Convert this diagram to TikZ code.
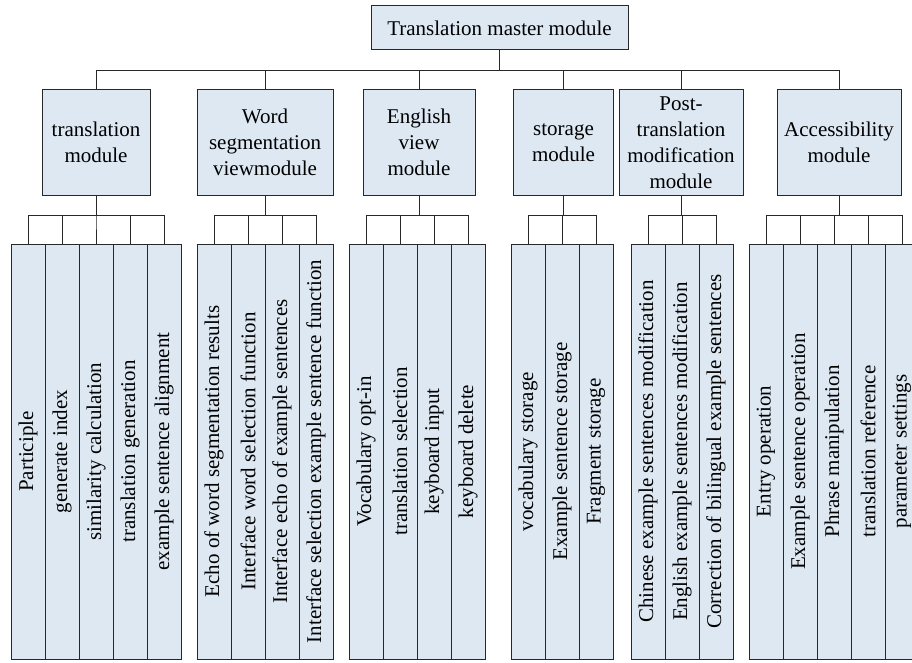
\documentclass[tikz,border=0pt]{standalone}
\usepackage{fontspec}
\setmainfont{Liberation Serif}
\definecolor{boxfill}{RGB}{221,232,243}
\definecolor{linegray}{RGB}{40,40,40}

\begin{document}
\begin{tikzpicture}[x=1pt,y=1pt]
\tikzstyle{every node}+=[inner sep=0pt, font=\fontsize{21}{26}\selectfont]
\tikzstyle{box}=[draw=linegray, line width=1pt, fill=boxfill, align=center]
\tikzstyle{module}=[box, minimum height=105pt]
\tikzstyle{leaf}=[box, minimum width=34pt, minimum height=415pt]
\tikzstyle{link}=[draw=linegray, line width=1pt]
\useasboundingbox (0,0) rectangle (912,-663);
% top
\node [box, minimum width=257pt, minimum height=44pt] (master) at (499.5,-28) {Translation master module};
% modules
\node [module, minimum width=108pt] (trans) at (96,-142.5) {translation\\module};
\node [module, minimum width=136pt] (wordseg) at (265,-142.5) {Word\\segmentation\\viewmodule};
\node [module, minimum width=112pt] (english) at (419,-142.5) {English\\view\\module};
\node [module, minimum width=100pt] (storage) at (563.5,-142.5) {storage\\module};
\node [module, minimum width=124pt] (post) at (681,-142.5) {Post-\\translation\\modification\\module};
\node [module, minimum width=124pt] (access) at (839,-142.5) {Accessibility\\module};
% translation module
\node [leaf] (trans1) at (28,-451.5) {\rotatebox{90}{Participle}};
\node [leaf] (trans2) at (62,-451.5) {\rotatebox{90}{generate index}};
\node [leaf] (trans3) at (96,-451.5) {\rotatebox{90}{similarity calculation}};
\node [leaf] (trans4) at (130,-451.5) {\rotatebox{90}{translation generation}};
\node [leaf] (trans5) at (164,-451.5) {\rotatebox{90}{example sentence alignment}};
% word segmentation
\node [leaf] (wordseg1) at (214,-451.5) {\rotatebox{90}{Echo of word segmentation results}};
\node [leaf] (wordseg2) at (248,-451.5) {\rotatebox{90}{Interface word selection function}};
\node [leaf] (wordseg3) at (282,-451.5) {\rotatebox{90}{Interface echo of example sentences}};
\node [leaf] (wordseg4) at (316,-451.5) {\rotatebox{90}{Interface selection example sentence function}};
% english view
\node [leaf] (english1) at (366,-451.5) {\rotatebox{90}{Vocabulary opt-in}};
\node [leaf] (english2) at (400,-451.5) {\rotatebox{90}{translation selection}};
\node [leaf] (english3) at (434,-451.5) {\rotatebox{90}{keyboard input}};
\node [leaf] (english4) at (468,-451.5) {\rotatebox{90}{keyboard delete}};
% storage
\node [leaf] (storage1) at (528,-451.5) {\rotatebox{90}{vocabulary storage}};
\node [leaf] (storage2) at (562,-451.5) {\rotatebox{90}{Example sentence storage}};
\node [leaf] (storage3) at (596,-451.5) {\rotatebox{90}{Fragment storage}};
% post-translation
\node [leaf] (post1) at (648,-451.5) {\rotatebox{90}{Chinese example sentences modification}};
\node [leaf] (post2) at (682,-451.5) {\rotatebox{90}{English example sentences modification}};
\node [leaf] (post3) at (716,-451.5) {\rotatebox{90}{Correction of bilingual example sentences}};
% accessibility
\node [leaf] (access1) at (766,-451.5) {\rotatebox{90}{Entry operation}};
\node [leaf] (access2) at (800,-451.5) {\rotatebox{90}{Example sentence operation}};
\node [leaf] (access3) at (834,-451.5) {\rotatebox{90}{Phrase manipulation}};
\node [leaf] (access4) at (868,-451.5) {\rotatebox{90}{translation reference}};
\node [leaf] (access5) at (902,-451.5) {\rotatebox{90}{parameter settings}};
% links
\draw [link] (master.south) -- ++(0,-20) -| (trans.north);
\draw [link] (master.south) -- ++(0,-20) -| (wordseg.north);
\draw [link] (master.south) -- ++(0,-20) -| (english.north);
\draw [link] (master.south) -- ++(0,-20) -| (storage.north);
\draw [link] (master.south) -- ++(0,-20) -| (post.north);
\draw [link] (master.south) -- ++(0,-20) -| (access.north);
\draw [link] (trans.south) -- ++(0,-20) -| (trans1.north);
\draw [link] (trans.south) -- ++(0,-20) -| (trans2.north);
\draw [link] (trans.south) -- ++(0,-20) -| (trans3.north);
\draw [link] (trans.south) -- ++(0,-20) -| (trans4.north);
\draw [link] (trans.south) -- ++(0,-20) -| (trans5.north);
\draw [link] (wordseg.south) -- ++(0,-20) -| (wordseg1.north);
\draw [link] (wordseg.south) -- ++(0,-20) -| (wordseg2.north);
\draw [link] (wordseg.south) -- ++(0,-20) -| (wordseg3.north);
\draw [link] (wordseg.south) -- ++(0,-20) -| (wordseg4.north);
\draw [link] (english.south) -- ++(0,-20) -| (english1.north);
\draw [link] (english.south) -- ++(0,-20) -| (english2.north);
\draw [link] (english.south) -- ++(0,-20) -| (english3.north);
\draw [link] (english.south) -- ++(0,-20) -| (english4.north);
\draw [link] (storage.south) -- ++(0,-20) -| (storage1.north);
\draw [link] (storage.south) -- ++(0,-20) -| (storage2.north);
\draw [link] (storage.south) -- ++(0,-20) -| (storage3.north);
\draw [link] (post.south) -- ++(0,-20) -| (post1.north);
\draw [link] (post.south) -- ++(0,-20) -| (post2.north);
\draw [link] (post.south) -- ++(0,-20) -| (post3.north);
\draw [link] (access.south) -- ++(0,-20) -| (access1.north);
\draw [link] (access.south) -- ++(0,-20) -| (access2.north);
\draw [link] (access.south) -- ++(0,-20) -| (access3.north);
\draw [link] (access.south) -- ++(0,-20) -| (access4.north);
\draw [link] (access.south) -- ++(0,-20) -| (access5.north);
\end{tikzpicture}
\end{document}
